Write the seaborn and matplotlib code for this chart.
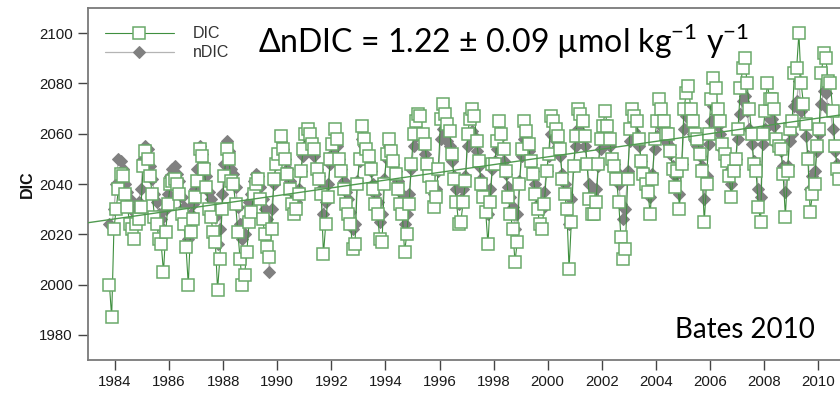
import numpy as np
import pandas as pd
import matplotlib
matplotlib.use("Agg")
import matplotlib.pyplot as plt
import seaborn as sns

# ---------------- data (monthly, starting Oct 1983) ----------------
start_year = 1983
start_month = 10

dic = [
    2000, 1987, 2022,                                                   # 1983 Oct-Dec
    2030, 2038, 2044, 2043, 2036, 2031, 2024, 2022, 2018, 2024, 2026, 2031,  # 1984
    2047, 2053, 2050, 2043, 2036, 2027, 2024, 2018, 2016, 2005, 2021, 2032,  # 1985
    2040, 2041, 2042, 2040, 2036, 2028, 2024, 2015, 2000, 2021, 2026, 2035,  # 1986
    2041, 2054, 2051, 2046, 2039, 2030, 2027, 2021, 2017, 1998, 2010, 2030,  # 1987
    2043, 2054, 2050, 2041, 2040, 2032, 2021, 2010, 2000, 2004, 2013, 2025,  # 1988
    2029, 2036, 2040, 2042, 2034, 2026, 2020, 2015, 2011, 2022, 2042, 2048,  # 1989
    2052, 2059, 2054, 2050, 2044, 2038, 2032, 2028, 2030, 2036, 2045, 2054,  # 1990
    2060, 2062, 2060, 2056, 2054, 2046, 2042, 2036, 2012, 2024, 2035, 2050,  # 1991
    2056, 2062, 2058, 2050, 2045, 2038, 2032, 2028, 2024, 2014, 2016, 2040,  # 1992
    2050, 2063, 2058, 2054, 2051, 2046, 2038, 2032, 2028, 2018, 2017, 2040,  # 1993
    2052, 2058, 2053, 2049, 2044, 2038, 2032, 2028, 2013, 2020, 2032, 2048,  # 1994
    2060, 2065, 2068, 2067, 2060, 2056, 2048, 2043, 2039, 2031, 2035, 2046,  # 1995
    2066, 2072, 2068, 2064, 2061, 2052, 2042, 2033, 2024, 2025, 2033, 2041,  # 1996
    2060, 2066, 2070, 2067, 2057, 2049, 2040, 2035, 2029, 2016, 2033, 2048,  # 1997
    2048, 2057, 2065, 2060, 2054, 2045, 2035, 2028, 2022, 2009, 2017, 2040,  # 1998
    2054, 2065, 2061, 2056, 2049, 2044, 2036, 2030, 2024, 2022, 2032, 2045,  # 1999
    2052, 2067, 2065, 2062, 2059, 2054, 2042, 2036, 2030, 2006, 2025, 2047,  # 2000
    2059, 2070, 2068, 2065, 2059, 2048, 2034, 2028, 2028, 2033, 2048, 2058,  # 2001
    2063, 2069, 2063, 2058, 2050, 2047, 2042, 2033, 2019, 2010, 2014, 2042,  # 2002
    2062, 2070, 2067, 2065, 2058, 2049, 2044, 2040, 2037, 2028, 2042, 2058,  # 2003
    2065, 2074, 2070, 2065, 2060, 2060, 2053, 2046, 2039, 2045, 2030, 2048,  # 2004
    2070, 2076, 2079, 2070, 2065, 2060, 2058, 2052, 2045, 2025, 2040, 2060,  # 2005
    2074, 2082, 2078, 2070, 2065, 2056, 2052, 2049, 2043, 2035, 2045, 2050,  # 2006
    2062, 2078, 2086, 2090, 2080, 2070, 2060, 2048, 2045, 2031, 2025, 2060,  # 2007
    2069, 2080, 2074, 2074, 2070, 2058, 2055, 2054, 2044, 2027, 2045, 2062,  # 2008
    2065, 2084, 2086, 2100, 2080, 2072, 2064, 2050, 2029, 2036, 2040, 2055,  # 2009
    2062, 2084, 2092, 2090, 2081, 2080, 2069, 2055, 2046, 2042,              # 2010 Jan-Oct
]

ndic = [
    2024, 2023, 2030,
    2040, 2050, 2049, 2046, 2040, 2037, 2034, 2030, 2029, 2031, 2033, 2038,
    2050, 2055, 2054, 2047, 2042, 2036, 2033, 2028, 2026, 2022, 2030, 2036,
    2043, 2046, 2047, 2044, 2041, 2035, 2031, 2026, 2018, 2028, 2032, 2038,
    2046, 2055, 2052, 2048, 2043, 2037, 2034, 2030, 2027, 2016, 2022, 2036,
    2048, 2057, 2053, 2046, 2044, 2039, 2031, 2024, 2018, 2020, 2026, 2033,
    2036, 2041, 2044, 2043, 2039, 2034, 2030, 2026, 2005, 2030, 2040, 2048,
    2052, 2057, 2054, 2050, 2046, 2041, 2037, 2034, 2033, 2038, 2045, 2051,
    2055, 2058, 2057, 2053, 2051, 2046, 2043, 2038, 2028, 2033, 2040, 2048,
    2052, 2057, 2055, 2050, 2046, 2041, 2037, 2034, 2029, 2022, 2024, 2041,
    2049, 2058, 2055, 2051, 2049, 2045, 2040, 2036, 2033, 2025, 2028, 2042,
    2050, 2055, 2052, 2048, 2045, 2041, 2037, 2034, 2024, 2028, 2036, 2046,
    2055, 2059, 2061, 2060, 2055, 2052, 2046, 2043, 2040, 2036, 2038, 2045,
    2058, 2062, 2060, 2057, 2055, 2049, 2043, 2038, 2032, 2034, 2038, 2043,
    2055, 2059, 2061, 2059, 2053, 2047, 2042, 2039, 2035, 2028, 2038, 2046,
    2049, 2054, 2058, 2055, 2049, 2044, 2039, 2035, 2031, 2022, 2028, 2041,
    2051, 2058, 2056, 2053, 2048, 2045, 2040, 2036, 2033, 2030, 2037, 2045,
    2051, 2060, 2059, 2057, 2055, 2051, 2044, 2040, 2036, 2024, 2034, 2047,
    2055, 2062, 2061, 2059, 2055, 2048, 2040, 2036, 2035, 2038, 2047, 2054,
    2058, 2062, 2058, 2055, 2050, 2048, 2045, 2040, 2032, 2026, 2030, 2045,
    2057, 2063, 2061, 2059, 2055, 2049, 2046, 2043, 2041, 2035, 2044, 2054,
    2059, 2065, 2063, 2060, 2057, 2056, 2052, 2047, 2043, 2046, 2036, 2048,
    2062, 2067, 2069, 2063, 2060, 2057, 2055, 2051, 2047, 2034, 2043, 2056,
    2065, 2071, 2068, 2063, 2060, 2054, 2051, 2049, 2045, 2040, 2046, 2050,
    2058, 2068, 2073, 2075, 2069, 2062, 2056, 2049, 2047, 2038, 2035, 2056,
    2062, 2069, 2066, 2066, 2063, 2056, 2054, 2053, 2047, 2037, 2047, 2057,
    2060, 2071, 2073, 2081, 2069, 2064, 2059, 2051, 2038, 2043, 2045, 2053,
    2060, 2072, 2077, 2076, 2070, 2069, 2062, 2053, 2048, 2046,
]

trend_intercept_1983 = 2024.6   # trend line value at 1983.0
trend_slope = 1.54              # per year
trend_years = [1983.0, 2011.5]

x_ticks = list(range(1984, 2011, 2))
y_ticks = list(range(1980, 2101, 20))
annotation = "\u0394nDIC = 1.22 \u00b1 0.09 \u00b5mol kg$^{\\mathregular{-1}}$ y$^{\\mathregular{-1}}$"
credit = "Bates 2010"

assert len(dic) == len(ndic)
n = len(dic)
years = [start_year + (start_month - 1 + i + 0.5) / 12.0 for i in range(n)]
df = pd.DataFrame({"year": years, "DIC": dic, "nDIC": ndic})
trend_df = pd.DataFrame({"year": trend_years,
                         "trend": [trend_intercept_1983 + trend_slope * (y - 1983.0) for y in trend_years]})

# ---------------- style ----------------
sns.set_theme(style="white")
plt.rcParams["font.family"] = ["Liberation Sans", "DejaVu Sans"]

W, H = 840, 393
fig = plt.figure(figsize=(W / 100, H / 100), dpi=100)
ax = fig.add_axes([88 / W, 33 / H, 770.6 / W, 352 / H])

green_line = "#3f8f3f"
green_edge = "#6aa96a"
gray_line = "#b4b4b4"
gray_mark = "#808080"

sns.lineplot(data=df, x="year", y="nDIC", ax=ax, sort=False, estimator=None,
             color=gray_line, linewidth=0.9, marker="D", markersize=6.2,
             markerfacecolor=gray_mark, markeredgecolor=gray_mark,
             label="nDIC", zorder=2)
sns.lineplot(data=df, x="year", y="DIC", ax=ax, sort=False, estimator=None,
             color=green_line, linewidth=0.8, marker="s", markersize=8.2,
             markerfacecolor="white", markeredgecolor=green_edge, markeredgewidth=1.1,
             label="DIC", zorder=3)
sns.lineplot(data=trend_df, x="year", y="trend", ax=ax, color="#4f9a4f",
             linewidth=1.0, zorder=4, legend=False)

ax.set_xlim(1983.0, 2011.5)
ax.set_ylim(1970, 2110)
ax.set_xticks(x_ticks)
ax.set_yticks(y_ticks)
ax.set_xlabel("")
ax.set_ylabel("DIC", fontsize=11.5, fontweight="bold", color="#111111", labelpad=3)
ax.tick_params(axis="both", which="major", direction="out", length=7, width=1,
               color="#444444", labelsize=10.8, labelcolor="#1a1a1a", pad=4,
               bottom=True, left=True)
for side in ["left", "bottom", "top"]:
    ax.spines[side].set_color("#7a7a7a")
    ax.spines[side].set_linewidth(1.3)
ax.spines["right"].set_visible(False)

handles, labels = ax.get_legend_handles_labels()
order = [labels.index("DIC"), labels.index("nDIC")]
leg = ax.legend([handles[i] for i in order], [labels[i] for i in order],
                loc="upper left", bbox_to_anchor=(0.022, 0.948), frameon=False,
                fontsize=11.5, handlelength=4.3, handletextpad=1.2,
                labelspacing=0.25, borderaxespad=0, borderpad=0)
for t in leg.get_texts():
    t.set_color("#333333")

fig.text(258 / W, 1 - 53 / H, annotation, fontsize=23, family=["Lato", "DejaVu Sans"],
         color="black", va="baseline", ha="left")
fig.text(815 / W, 1 - 338 / H, credit, fontsize=20, family=["Lato", "DejaVu Sans"],
         color="black", va="baseline", ha="right")

fig.savefig("out.png", dpi=100)
